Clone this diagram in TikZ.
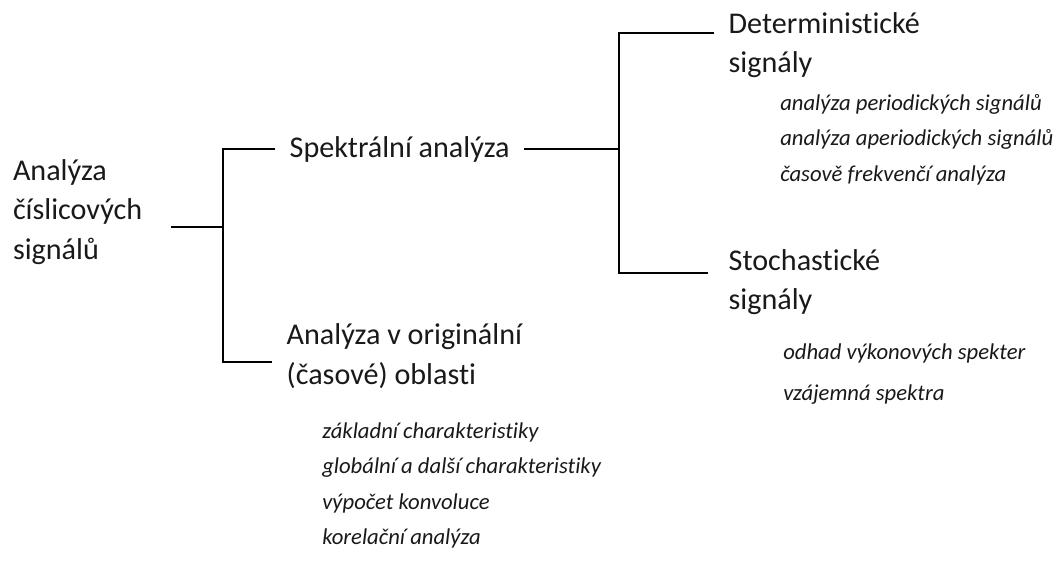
\documentclass[tikz,border=0pt]{standalone}
\usepackage{fontspec}
\setmainfont{Carlito}[Ligatures=NoCommon]
\usepackage{tikz}
\usetikzlibrary{calc}

\tikzset{
	mainlbl/.style={inner sep=0pt, outer xsep=11pt, anchor=west, align=left, text=black!90, font=\fontsize{22.6}{29.5}\selectfont},
	itemlbl/.style={inner sep=0pt, anchor=west, text=black!90, font=\fontsize{17}{20}\selectfont\itshape},
	branch/.style={line width=1.1pt}
}

\begin{document}
\begin{tikzpicture}[x=0.75pt, y=-0.75pt]
			\useasboundingbox (0, 0) rectangle (1064, 568);

			\node[mainlbl, outer xsep=0pt] (root) at (13, 212) {Analýza\\číslicových\\signálů};
			\node[mainlbl] (spek) at (275, 149) {Spektrální analýza};
			\node[mainlbl] (ana) at (272, 356) {Analýza v originální\\(časové) oblasti};
			\node[mainlbl] (det) at (714, 45) {Deterministické\\signály};
			\node[mainlbl] (stoch) at (714, 282) {Stochastické\\signály};

			\node[itemlbl] (perio) at (780, 104) {analýza periodických signálů};
			\node[itemlbl] (aperio) at (780, 139) {analýza aperiodických signálů};
			\node[itemlbl] (tfa) at (780, 175) {časově frekvenčí analýza};

			\node[itemlbl] (vykon) at (783, 353) {odhad výkonových spekter};
			\node[itemlbl] (vzaj) at (783, 395) {vzájemná spektra};

			\node[itemlbl] (zakl) at (322, 432) {základní charakteristiky};
			\node[itemlbl] (glob) at (322, 468) {globální a další charakteristiky};
			\node[itemlbl] (konv) at (322, 503) {výpočet konvoluce};
			\node[itemlbl] (korel) at (322, 538) {korelační analýza};

			% junctions of the two brackets
			\coordinate (j1) at (223, 227);
			\coordinate (j2) at (619, 149);
			\coordinate (rootend) at ($(root.east)+(29, 0)$);
			\coordinate (anatip) at ([yshift=-4.5pt]ana.west);
			\coordinate (dettip) at ([yshift=9pt]det.west);
			\coordinate (stochtip) at ([xshift=-4.5pt, yshift=6.75pt]stoch.west);

			\draw[branch] (rootend |- j1)--(j1);
			\draw[branch] (spek.west)--(spek.west -| j1)--(anatip -| j1)--(anatip);
			\draw[branch] (spek.east)--(j2);
			\draw[branch] (dettip)--(dettip -| j2)--(stochtip -| j2)--(stochtip);
		\end{tikzpicture}
\end{document}
